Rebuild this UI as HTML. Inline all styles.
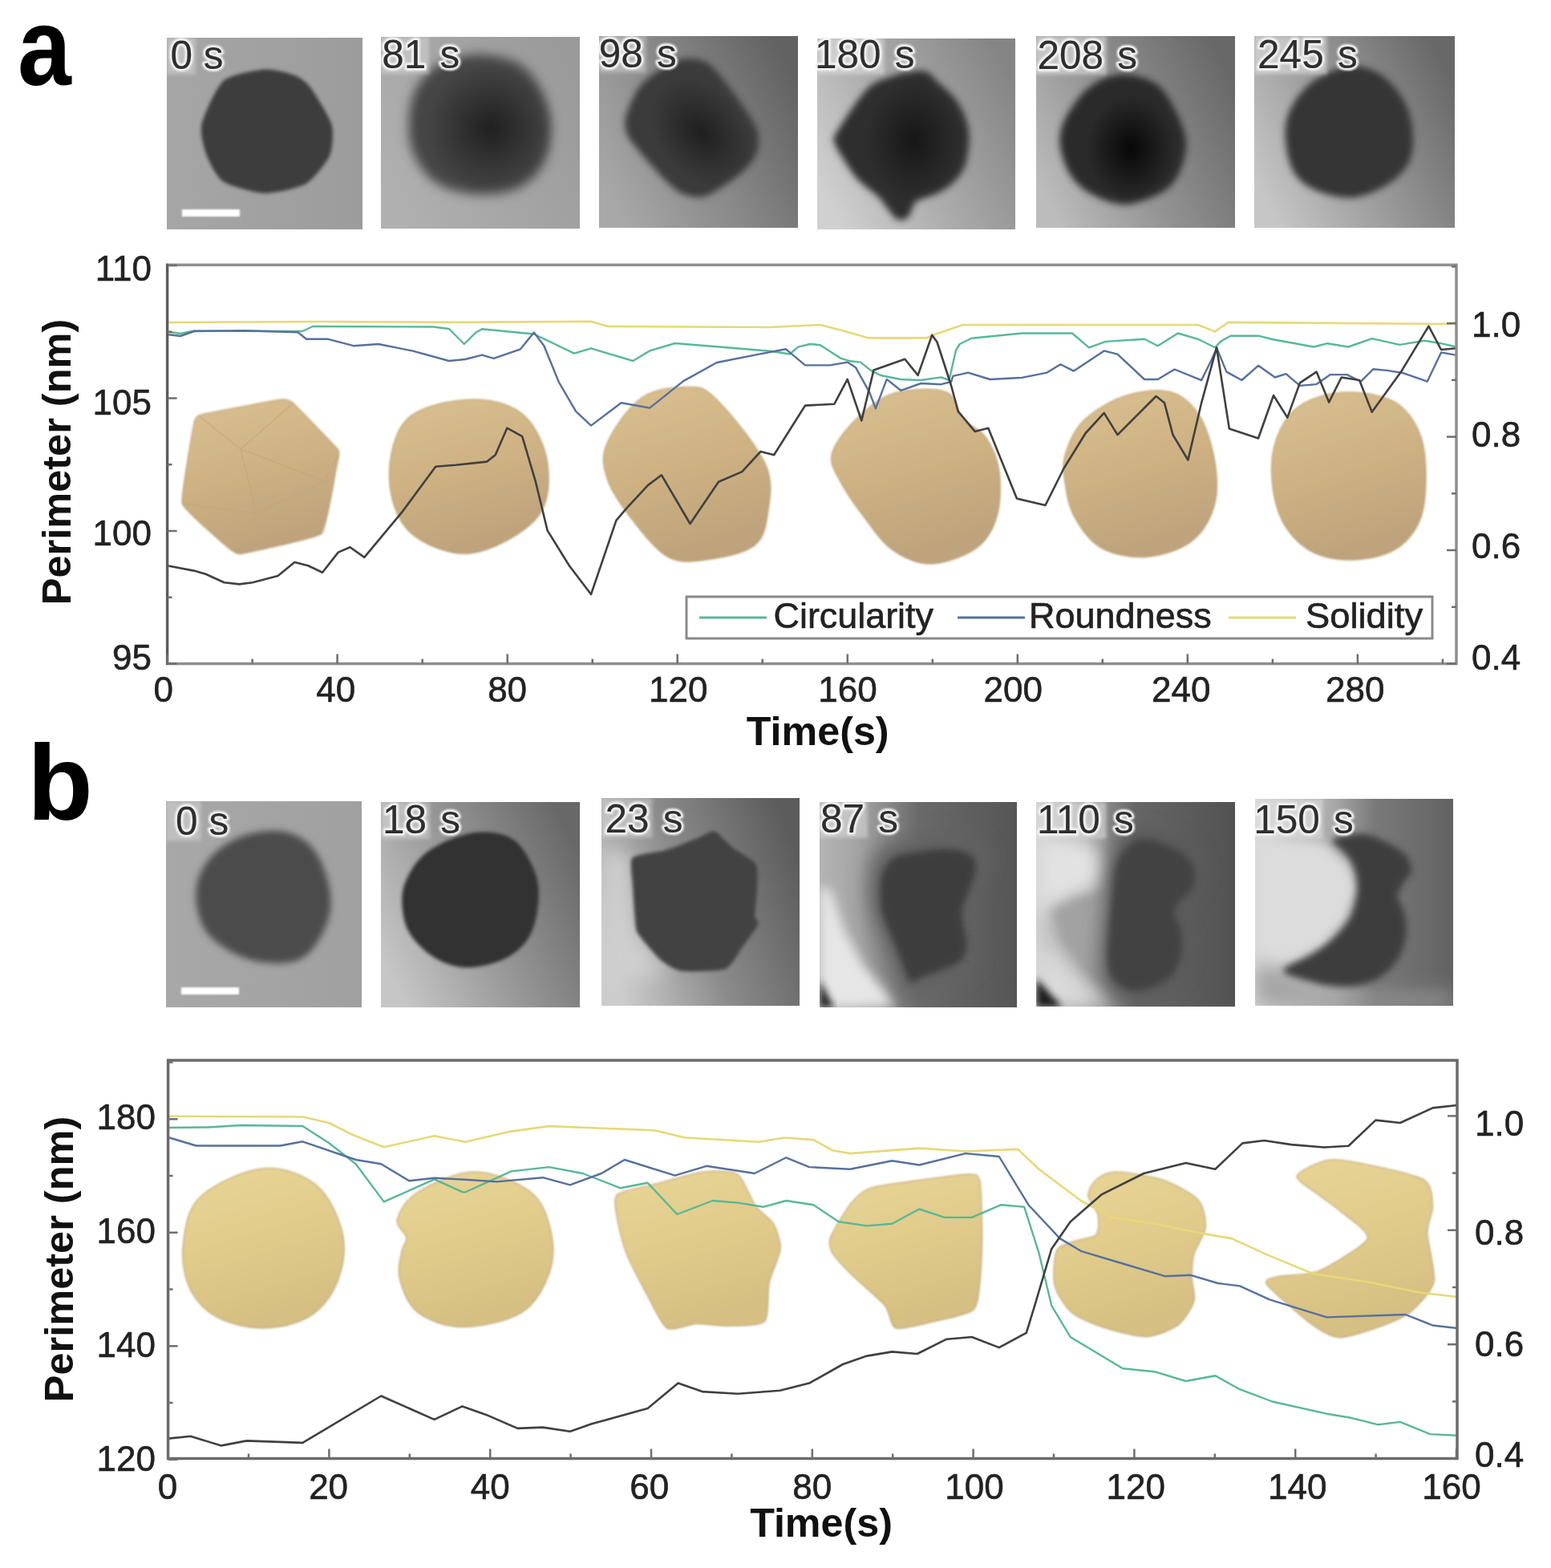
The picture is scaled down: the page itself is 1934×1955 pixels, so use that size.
<!DOCTYPE html>
<html><head><meta charset="utf-8"><title>Figure</title>
<style>html,body{margin:0;padding:0;background:#fff;}svg{display:block;}</style>
</head><body>
<svg xmlns="http://www.w3.org/2000/svg" width="1934" height="1955" viewBox="0 0 1934 1955">
<defs><filter id="b2" x="-20%" y="-20%" width="140%" height="140%"><feGaussianBlur stdDeviation="2"/></filter><filter id="b4" x="-20%" y="-20%" width="140%" height="140%"><feGaussianBlur stdDeviation="4"/></filter><filter id="b7" x="-30%" y="-30%" width="160%" height="160%"><feGaussianBlur stdDeviation="7"/></filter><filter id="b12" x="-40%" y="-40%" width="180%" height="180%"><feGaussianBlur stdDeviation="12"/></filter><filter id="b20" x="-50%" y="-50%" width="200%" height="200%"><feGaussianBlur stdDeviation="20"/></filter><filter id="b1" x="-10%" y="-10%" width="120%" height="120%"><feGaussianBlur stdDeviation="1"/></filter><filter id="sb" x="-5%" y="-5%" width="110%" height="110%"><feGaussianBlur stdDeviation="0.8"/></filter><filter id="grain" x="0" y="0" width="100%" height="100%"><feTurbulence type="fractalNoise" baseFrequency="0.35" numOctaves="2" seed="3" result="n"/><feColorMatrix type="matrix" values="0 0 0 0 0.5  0 0 0 0 0.5  0 0 0 0 0.5  0.6 0.6 0 0 -0.5"/></filter><radialGradient id="core1"><stop offset="0" stop-color="#1c1c1c" stop-opacity="0.9"/><stop offset="1" stop-color="#1c1c1c" stop-opacity="0"/></radialGradient><radialGradient id="core2"><stop offset="0" stop-color="#141414" stop-opacity="0.9"/><stop offset="1" stop-color="#141414" stop-opacity="0"/></radialGradient><radialGradient id="core3"><stop offset="0" stop-color="#050505" stop-opacity="0.95"/><stop offset="1" stop-color="#050505" stop-opacity="0"/></radialGradient><linearGradient id="ga1" x1="0" y1="0" x2="1" y2="0"><stop offset="0" stop-color="#a6a6a6"/><stop offset="1" stop-color="#9c9c9c"/></linearGradient><clipPath id="ca1"><rect x="208" y="47" width="244" height="239"/></clipPath><linearGradient id="ga2" x1="0" y1="0.75" x2="1" y2="0.25"><stop offset="0" stop-color="#b0b0b0"/><stop offset="1" stop-color="#9a9a9a"/></linearGradient><clipPath id="ca2"><rect x="475" y="46" width="248" height="239"/></clipPath><linearGradient id="ga3" x1="0" y1="0.75" x2="1" y2="0.25"><stop offset="0" stop-color="#a8a8a8"/><stop offset="0.5" stop-color="#888"/><stop offset="1" stop-color="#626262"/></linearGradient><clipPath id="ca3"><rect x="747" y="45" width="248" height="239"/></clipPath><linearGradient id="ga4" x1="0" y1="0.75" x2="1" y2="0.25"><stop offset="0" stop-color="#d0d0d0"/><stop offset="0.5" stop-color="#a8a8a8"/><stop offset="1" stop-color="#858585"/></linearGradient><clipPath id="ca4"><rect x="1019" y="48" width="247" height="238"/></clipPath><linearGradient id="ga5" x1="0" y1="0.75" x2="1" y2="0.25"><stop offset="0" stop-color="#bcbcbc"/><stop offset="0.45" stop-color="#929292"/><stop offset="1" stop-color="#686868"/></linearGradient><clipPath id="ca5"><rect x="1292" y="45" width="248" height="239"/></clipPath><linearGradient id="ga6" x1="0" y1="0.75" x2="1" y2="0.25"><stop offset="0" stop-color="#c6c6c6"/><stop offset="0.45" stop-color="#9c9c9c"/><stop offset="1" stop-color="#686868"/></linearGradient><clipPath id="ca6"><rect x="1564" y="45" width="250" height="239"/></clipPath><linearGradient id="gb1" x1="0" y1="0" x2="1" y2="0"><stop offset="0" stop-color="#a8a8a8"/><stop offset="1" stop-color="#a0a0a0"/></linearGradient><clipPath id="cb1"><rect x="207" y="999" width="244" height="257"/></clipPath><linearGradient id="gb2" x1="0" y1="0.75" x2="1" y2="0.25"><stop offset="0" stop-color="#c6c6c6"/><stop offset="0.45" stop-color="#9a9a9a"/><stop offset="1" stop-color="#686868"/></linearGradient><clipPath id="cb2"><rect x="475" y="1000" width="248" height="256"/></clipPath><linearGradient id="gb3" x1="0" y1="0.7" x2="1" y2="0.3"><stop offset="0" stop-color="#cccccc"/><stop offset="0.45" stop-color="#8c8c8c"/><stop offset="1" stop-color="#5c5c5c"/></linearGradient><clipPath id="cb3"><rect x="750" y="995" width="247" height="259"/></clipPath><linearGradient id="gb4" x1="0" y1="0" x2="1" y2="0"><stop offset="0" stop-color="#b4b4b4"/><stop offset="0.2" stop-color="#a4a4a4"/><stop offset="0.35" stop-color="#888"/><stop offset="0.5" stop-color="#6a6a6a"/><stop offset="1" stop-color="#555"/></linearGradient><clipPath id="cb4"><rect x="1022" y="1000" width="246" height="256"/></clipPath><linearGradient id="gb5" x1="0" y1="0" x2="1" y2="0"><stop offset="0" stop-color="#d0d0d0"/><stop offset="0.35" stop-color="#8a8a8a"/><stop offset="0.5" stop-color="#666"/><stop offset="1" stop-color="#525252"/></linearGradient><clipPath id="cb5"><rect x="1292" y="1000" width="248" height="255"/></clipPath><linearGradient id="gb6" x1="0" y1="0" x2="1" y2="0"><stop offset="0" stop-color="#d8d8d8"/><stop offset="0.4" stop-color="#a8a8a8"/><stop offset="0.6" stop-color="#7a7a7a"/><stop offset="1" stop-color="#626262"/></linearGradient><clipPath id="cb6"><rect x="1565" y="996" width="247" height="258"/></clipPath><linearGradient id="tanG" x1="0" y1="0" x2="0.3" y2="1"><stop offset="0" stop-color="#dac090"/><stop offset="0.5" stop-color="#cfb384"/><stop offset="1" stop-color="#bfa37c"/></linearGradient><linearGradient id="yelG" x1="0" y1="0" x2="0.3" y2="1"><stop offset="0" stop-color="#e8d596"/><stop offset="0.55" stop-color="#e0cb8b"/><stop offset="1" stop-color="#d5bf82"/></linearGradient></defs>
<rect width="1934" height="1955" fill="#fff"/>
<g clip-path="url(#ca1)"><rect x="208" y="47" width="244" height="239" fill="url(#ga1)"/><path d="M330.6,86.6 C341.0,85.8 361.5,91.6 368.2,94.3 C374.9,97.0 382.4,102.8 387.7,109.9 C393.0,117.0 410.9,145.5 413.6,155.3 C416.3,165.1 414.8,185.6 411.0,194.2 C407.2,202.8 390.7,223.8 381.2,229.2 C371.7,234.6 341.3,241.2 329.3,240.9 C317.3,240.6 287.0,232.0 278.7,226.6 C270.4,221.2 261.1,202.5 257.9,194.2 C254.7,185.9 249.0,166.2 251.4,155.3 C253.8,144.4 269.5,108.8 278.7,100.8 C287.9,92.8 320.2,87.4 330.6,86.6Z" fill="#3c3c3c" filter="url(#b2)"/><rect x="208" y="47" width="35.9" height="45.7" fill="#dedede" opacity="0.45" filter="url(#b2)"/></g><text x="212.4" y="85.7" font-family="'Liberation Sans', Arial, Helvetica, sans-serif" font-size="49.5" word-spacing="0" fill="none" stroke="#f4f4f4" stroke-width="6" stroke-linejoin="round" filter="url(#sb)">0 s</text><text x="212.4" y="85.7" font-family="'Liberation Sans', Arial, Helvetica, sans-serif" font-size="49.5" word-spacing="0" fill="#2e2e2e" stroke="#2e2e2e" stroke-width="0.2">0 s</text><rect x="227" y="261" width="72" height="9" fill="#fff" filter="url(#sb)"/>
<g clip-path="url(#ca2)"><rect x="475" y="46" width="248" height="239" fill="url(#ga2)"/><path d="M599.0,68.0 C617.3,68.5 640.7,73.0 655.0,85.0 C669.3,97.0 680.8,120.8 685.0,140.0 C689.2,159.2 686.7,184.2 680.0,200.0 C673.3,215.8 660.0,228.0 645.0,235.0 C630.0,242.0 607.5,243.7 590.0,242.0 C572.5,240.3 553.0,235.3 540.0,225.0 C527.0,214.7 516.2,197.5 512.0,180.0 C507.8,162.5 509.5,136.3 515.0,120.0 C520.5,103.7 531.0,90.7 545.0,82.0 C559.0,73.3 580.7,67.5 599.0,68.0Z" fill="#444" filter="url(#b7)"/><ellipse cx="612" cy="160" rx="80" ry="80" fill="url(#core1)"/><rect x="475" y="46" width="60.2" height="46.2" fill="#dedede" opacity="0.45" filter="url(#b2)"/></g><text x="476.2" y="85.2" font-family="'Liberation Sans', Arial, Helvetica, sans-serif" font-size="49.5" word-spacing="3.5" fill="none" stroke="#f4f4f4" stroke-width="6" stroke-linejoin="round" filter="url(#sb)">81 s</text><text x="476.2" y="85.2" font-family="'Liberation Sans', Arial, Helvetica, sans-serif" font-size="49.5" word-spacing="3.5" fill="#2e2e2e" stroke="#2e2e2e" stroke-width="0.2">81 s</text>
<g clip-path="url(#ca3)"><rect x="747" y="45" width="248" height="239" fill="url(#ga3)"/><path d="M782.0,140.0 C785.3,130.8 791.2,115.0 800.0,105.0 C808.8,95.0 824.7,85.3 835.0,80.0 C845.3,74.7 852.8,72.2 862.0,73.0 C871.2,73.8 877.8,73.0 890.0,85.0 C902.2,97.0 925.7,130.0 935.0,145.0 C944.3,160.0 946.0,165.0 946.0,175.0 C946.0,185.0 944.3,194.2 935.0,205.0 C925.7,215.8 902.2,233.3 890.0,240.0 C877.8,246.7 871.2,246.7 862.0,245.0 C852.8,243.3 847.0,240.8 835.0,230.0 C823.0,219.2 799.2,191.7 790.0,180.0 C780.8,168.3 781.3,166.7 780.0,160.0 C778.7,153.3 778.7,149.2 782.0,140.0Z" fill="#3a3a3a" filter="url(#b4)"/><ellipse cx="875" cy="165" rx="55" ry="75" transform="rotate(-40 875 165)" fill="url(#core1)"/><rect x="747" y="45" width="58.7" height="45.5" fill="#dedede" opacity="0.45" filter="url(#b2)"/></g><text x="746.7" y="83.5" font-family="'Liberation Sans', Arial, Helvetica, sans-serif" font-size="49.5" word-spacing="3.5" fill="none" stroke="#f4f4f4" stroke-width="6" stroke-linejoin="round" filter="url(#sb)">98 s</text><text x="746.7" y="83.5" font-family="'Liberation Sans', Arial, Helvetica, sans-serif" font-size="49.5" word-spacing="3.5" fill="#2e2e2e" stroke="#2e2e2e" stroke-width="0.2">98 s</text>
<g clip-path="url(#ca4)"><rect x="1019" y="48" width="247" height="238" fill="url(#ga4)"/><path d="M1043.4,164.7 C1050.0,153.7 1069.3,123.3 1080.3,111.9 C1091.3,100.5 1100.1,99.8 1109.3,96.1 C1118.5,92.4 1128.0,90.6 1135.7,89.5 C1143.4,88.4 1150.0,87.5 1155.5,89.5 C1161.0,91.5 1163.2,96.4 1168.7,101.4 C1174.2,106.5 1182.9,113.2 1188.4,119.8 C1193.9,126.4 1198.3,133.5 1201.6,141.0 C1204.9,148.5 1207.3,156.3 1208.2,164.7 C1209.1,173.0 1208.0,183.4 1206.9,191.1 C1205.8,198.8 1204.7,204.7 1201.6,210.8 C1198.5,217.0 1193.9,222.9 1188.4,228.0 C1182.9,233.1 1176.4,237.2 1168.7,241.2 C1161.0,245.1 1148.2,246.9 1142.3,251.7 C1136.3,256.5 1136.7,266.5 1133.0,270.2 C1129.3,273.9 1123.9,275.2 1119.9,274.1 C1116.0,273.0 1113.3,268.2 1109.3,263.6 C1105.3,259.0 1102.7,253.0 1096.1,246.4 C1089.5,239.8 1077.3,232.1 1069.8,224.0 C1062.3,215.9 1056.1,205.4 1051.3,197.7 C1046.5,190.0 1042.0,183.4 1040.7,177.9 C1039.4,172.4 1036.8,175.7 1043.4,164.7Z" fill="#2e2e2e" filter="url(#b4)"/><ellipse cx="1140" cy="175" rx="60" ry="75" fill="url(#core2)"/><rect x="1019" y="48" width="83.5" height="44.4" fill="#dedede" opacity="0.6" filter="url(#b2)"/></g><text x="1016" y="85.4" font-family="'Liberation Sans', Arial, Helvetica, sans-serif" font-size="49.5" word-spacing="3.5" fill="none" stroke="#f4f4f4" stroke-width="6" stroke-linejoin="round" filter="url(#sb)">180 s</text><text x="1016" y="85.4" font-family="'Liberation Sans', Arial, Helvetica, sans-serif" font-size="49.5" word-spacing="3.5" fill="#2e2e2e" stroke="#2e2e2e" stroke-width="0.2">180 s</text>
<g clip-path="url(#ca5)"><rect x="1292" y="45" width="248" height="239" fill="url(#ga5)"/><path d="M1323.8,159.2 C1328.4,144.4 1342.3,123.2 1354.3,112.1 C1366.3,101.0 1381.7,94.1 1396.0,92.7 C1410.3,91.3 1428.8,96.4 1440.3,103.8 C1451.8,111.2 1458.8,124.1 1465.3,137.0 C1471.8,149.9 1479.6,166.1 1479.1,181.4 C1478.6,196.7 1471.7,217.0 1462.5,228.6 C1453.3,240.2 1435.7,246.7 1423.7,250.8 C1411.7,255.0 1402.9,256.3 1390.4,253.5 C1377.9,250.7 1359.4,242.9 1348.8,234.1 C1338.2,225.3 1330.8,213.3 1326.6,200.8 C1322.4,188.3 1319.2,174.0 1323.8,159.2Z" fill="#2a2a2a" filter="url(#b4)"/><ellipse cx="1410" cy="185" rx="55" ry="65" fill="url(#core3)"/><rect x="1292" y="45" width="87.9" height="48.0" fill="#dedede" opacity="0.6" filter="url(#b2)"/></g><text x="1293.4" y="86" font-family="'Liberation Sans', Arial, Helvetica, sans-serif" font-size="49.5" word-spacing="3.5" fill="none" stroke="#f4f4f4" stroke-width="6" stroke-linejoin="round" filter="url(#sb)">208 s</text><text x="1293.4" y="86" font-family="'Liberation Sans', Arial, Helvetica, sans-serif" font-size="49.5" word-spacing="3.5" fill="#2e2e2e" stroke="#2e2e2e" stroke-width="0.2">208 s</text>
<g clip-path="url(#ca6)"><rect x="1564" y="45" width="250" height="239" fill="url(#ga6)"/><path d="M1603.9,150.9 C1607.6,134.2 1618.9,117.3 1631.6,106.0 C1644.3,94.7 1664.9,85.2 1680.0,83.0 C1695.1,80.8 1709.7,84.9 1722.0,93.0 C1734.3,101.1 1747.0,117.2 1753.7,131.5 C1760.4,145.8 1762.5,165.3 1762.0,178.7 C1761.5,192.1 1758.3,202.2 1750.9,211.9 C1743.5,221.6 1729.6,231.1 1717.6,236.9 C1705.6,242.7 1692.7,247.1 1678.8,246.6 C1664.9,246.1 1646.0,240.8 1634.4,234.1 C1622.9,227.4 1614.6,220.3 1609.5,206.4 C1604.4,192.5 1600.2,167.6 1603.9,150.9Z" fill="#343434" filter="url(#b4)"/><rect x="1564" y="45" width="90.6" height="47.4" fill="#dedede" opacity="0.6" filter="url(#b2)"/></g><text x="1568.1" y="85.4" font-family="'Liberation Sans', Arial, Helvetica, sans-serif" font-size="49.5" word-spacing="3.5" fill="none" stroke="#f4f4f4" stroke-width="6" stroke-linejoin="round" filter="url(#sb)">245 s</text><text x="1568.1" y="85.4" font-family="'Liberation Sans', Arial, Helvetica, sans-serif" font-size="49.5" word-spacing="3.5" fill="#2e2e2e" stroke="#2e2e2e" stroke-width="0.2">245 s</text>
<g clip-path="url(#cb1)"><rect x="207" y="999" width="244" height="257" fill="url(#gb1)"/><path d="M244.4,1109.2 C245.8,1093.9 253.6,1078.9 263.8,1067.6 C274.0,1056.3 290.1,1046.4 305.4,1041.3 C320.6,1036.2 341.0,1034.1 355.3,1037.1 C369.6,1040.1 382.1,1047.7 391.3,1059.3 C400.6,1070.9 408.0,1091.2 410.8,1106.5 C413.6,1121.8 413.1,1136.5 408.0,1150.8 C402.9,1165.1 391.9,1184.1 380.3,1192.4 C368.8,1200.7 353.0,1201.2 338.7,1200.8 C324.4,1200.3 308.2,1196.6 294.3,1189.7 C280.4,1182.8 263.8,1172.6 255.5,1159.2 C247.2,1145.8 243.0,1124.5 244.4,1109.2Z" fill="#4c4c4c" filter="url(#b4)"/><rect x="207" y="999" width="43.6" height="49.3" fill="#dedede" opacity="0.45" filter="url(#b2)"/></g><text x="219.1" y="1041.3" font-family="'Liberation Sans', Arial, Helvetica, sans-serif" font-size="49.5" word-spacing="0" fill="none" stroke="#f4f4f4" stroke-width="6" stroke-linejoin="round" filter="url(#sb)">0 s</text><text x="219.1" y="1041.3" font-family="'Liberation Sans', Arial, Helvetica, sans-serif" font-size="49.5" word-spacing="0" fill="#2e2e2e" stroke="#2e2e2e" stroke-width="0.2">0 s</text><rect x="226" y="1231" width="72" height="9" fill="#fff" filter="url(#sb)"/>
<g clip-path="url(#cb2)"><rect x="475" y="1000" width="248" height="256" fill="url(#gb2)"/><path d="M505.0,1100.9 C510.1,1088.4 518.9,1072.5 532.8,1062.1 C546.7,1051.7 570.6,1041.3 588.2,1038.5 C605.8,1035.7 625.2,1037.9 638.2,1045.5 C651.2,1053.1 660.4,1071.4 665.9,1084.3 C671.4,1097.2 672.3,1109.2 671.4,1123.1 C670.5,1137.0 667.2,1155.5 660.3,1167.5 C653.4,1179.5 642.7,1188.7 629.8,1195.2 C616.9,1201.7 597.0,1206.3 582.7,1206.3 C568.4,1206.3 555.5,1201.7 543.9,1195.2 C532.3,1188.7 520.3,1177.2 513.4,1167.5 C506.5,1157.8 503.7,1148.1 502.3,1137.0 C500.9,1125.9 499.9,1113.4 505.0,1100.9Z" fill="#333" filter="url(#b2)"/><rect x="475" y="1000" width="61.0" height="46.0" fill="#dedede" opacity="0.45" filter="url(#b2)"/></g><text x="477" y="1039" font-family="'Liberation Sans', Arial, Helvetica, sans-serif" font-size="49.5" word-spacing="3.5" fill="none" stroke="#f4f4f4" stroke-width="6" stroke-linejoin="round" filter="url(#sb)">18 s</text><text x="477" y="1039" font-family="'Liberation Sans', Arial, Helvetica, sans-serif" font-size="49.5" word-spacing="3.5" fill="#2e2e2e" stroke="#2e2e2e" stroke-width="0.2">18 s</text>
<g clip-path="url(#cb3)"><rect x="750" y="995" width="247" height="259" fill="url(#gb3)"/><path d="M752,1060 L785,1065 L790,1160 L830,1215 L752,1230Z" fill="#cfcfcf" filter="url(#b12)"/><path d="M788.8,1069.3 C792.9,1065.1 821.9,1062.4 830.0,1060.0 C838.1,1057.6 863.9,1047.3 870.0,1045.0 C876.1,1042.7 886.4,1035.3 890.9,1036.6 C895.4,1037.9 909.8,1053.9 915.0,1058.0 C920.2,1062.1 939.8,1072.3 942.7,1077.4 C945.6,1082.5 944.1,1102.2 944.0,1108.7 C943.9,1115.2 941.3,1138.4 941.4,1142.8 C941.5,1147.2 947.0,1148.4 945.4,1152.3 C943.8,1156.2 929.1,1176.4 925.0,1182.0 C920.9,1187.6 912.1,1205.2 904.6,1208.1 C897.1,1211.0 858.1,1211.9 850.1,1210.8 C842.1,1209.7 829.2,1201.3 824.2,1197.2 C819.2,1193.1 803.1,1174.1 800.0,1170.0 C796.9,1165.9 794.0,1163.2 792.9,1156.4 C791.8,1149.6 789.2,1110.7 788.8,1102.0 C788.4,1093.3 784.7,1073.5 788.8,1069.3Z" fill="#424242" filter="url(#b2)"/><rect x="750" y="995" width="63.5" height="49.5" fill="#dedede" opacity="0.45" filter="url(#b2)"/></g><text x="754.5" y="1037.5" font-family="'Liberation Sans', Arial, Helvetica, sans-serif" font-size="49.5" word-spacing="3.5" fill="none" stroke="#f4f4f4" stroke-width="6" stroke-linejoin="round" filter="url(#sb)">23 s</text><text x="754.5" y="1037.5" font-family="'Liberation Sans', Arial, Helvetica, sans-serif" font-size="49.5" word-spacing="3.5" fill="#2e2e2e" stroke="#2e2e2e" stroke-width="0.2">23 s</text>
<g clip-path="url(#cb4)"><rect x="1022" y="1000" width="246" height="256" fill="url(#gb4)"/><path d="M1022,1105 L1036,1110 L1052,1158 L1076,1203 L1104,1236 L1116,1256 L1022,1256Z" fill="#e6e6e6" filter="url(#b7)"/><path d="M1022,1222 L1040,1256 L1022,1256Z" fill="#222" filter="url(#b4)"/><path d="M1086.0,1078.5 C1089.6,1070.1 1094.9,1059.7 1103.8,1054.2 C1112.6,1048.7 1126.0,1047.9 1139.4,1045.6 C1152.7,1043.3 1170.5,1040.0 1183.9,1040.3 C1197.2,1040.6 1211.4,1043.2 1219.4,1047.3 C1227.4,1051.3 1231.0,1056.5 1231.9,1064.6 C1232.8,1072.7 1228.3,1084.8 1224.8,1095.8 C1221.2,1106.8 1212.6,1120.5 1210.5,1130.6 C1208.4,1140.8 1211.1,1148.0 1212.2,1156.7 C1213.4,1165.4 1217.9,1174.0 1217.6,1182.7 C1217.3,1191.4 1216.1,1202.0 1210.5,1208.7 C1204.9,1215.3 1194.2,1218.2 1183.9,1222.6 C1173.5,1226.9 1157.1,1231.3 1148.2,1234.8 C1139.4,1238.3 1135.0,1244.9 1130.5,1243.5 C1126.0,1242.0 1126.0,1236.3 1121.5,1226.1 C1117.0,1216.0 1109.7,1197.2 1103.8,1182.7 C1097.8,1168.2 1089.6,1152.3 1086.0,1139.3 C1082.4,1126.3 1082.4,1114.7 1082.4,1104.6 C1082.4,1094.5 1082.4,1086.9 1086.0,1078.5Z" fill="#626262" filter="url(#b12)"/><path d="M1100.4,1089.6 C1103.2,1082.7 1107.5,1074.2 1114.6,1069.7 C1121.7,1065.2 1132.4,1064.5 1143.1,1062.6 C1153.8,1060.7 1168.0,1058.1 1178.7,1058.3 C1189.4,1058.5 1200.7,1060.7 1207.1,1064.0 C1213.5,1067.3 1216.4,1071.6 1217.1,1078.2 C1217.8,1084.8 1214.2,1094.8 1211.4,1103.8 C1208.6,1112.8 1201.7,1124.0 1200.0,1132.3 C1198.3,1140.6 1200.5,1146.6 1201.4,1153.7 C1202.4,1160.8 1205.9,1167.9 1205.7,1175.0 C1205.5,1182.1 1204.5,1190.8 1200.0,1196.3 C1195.5,1201.8 1187.0,1204.1 1178.7,1207.7 C1170.4,1211.3 1157.3,1214.9 1150.2,1217.7 C1143.1,1220.5 1139.6,1226.0 1136.0,1224.8 C1132.4,1223.6 1132.4,1218.9 1128.8,1210.6 C1125.2,1202.3 1119.3,1186.9 1114.6,1175.0 C1109.9,1163.1 1103.2,1150.1 1100.4,1139.4 C1097.6,1128.7 1097.5,1119.3 1097.5,1111.0 C1097.5,1102.7 1097.6,1096.5 1100.4,1089.6Z" fill="#3e3e3e" filter="url(#b4)"/><rect x="1022" y="1000" width="59.9" height="44.5" fill="#dedede" opacity="0.5" filter="url(#b2)"/></g><text x="1022.9" y="1037.5" font-family="'Liberation Sans', Arial, Helvetica, sans-serif" font-size="49.5" word-spacing="3.5" fill="none" stroke="#f4f4f4" stroke-width="6" stroke-linejoin="round" filter="url(#sb)">87 s</text><text x="1022.9" y="1037.5" font-family="'Liberation Sans', Arial, Helvetica, sans-serif" font-size="49.5" word-spacing="3.5" fill="#2e2e2e" stroke="#2e2e2e" stroke-width="0.2">87 s</text>
<g clip-path="url(#cb5)"><rect x="1292" y="1000" width="248" height="255" fill="url(#gb5)"/><path d="M1292,1040 L1360,1045 L1378,1075 L1372,1110 L1340,1118 L1310,1130 L1292,1140Z" fill="#e2e2e2" filter="url(#b12)"/><path d="M1292,1180 L1315,1185 L1345,1215 L1375,1240 L1385,1256 L1292,1256Z" fill="#dadada" filter="url(#b12)"/><path d="M1310,1135 L1345,1120 L1385,1115 L1390,1225 L1365,1215 L1325,1175Z" fill="#a2a2a2" filter="url(#b7)"/><path d="M1292,1220 L1325,1256 L1292,1256Z" fill="#1e1e1e" filter="url(#b4)"/><path d="M1388.6,1061.3 C1393.1,1053.8 1401.1,1043.2 1408.7,1039.0 C1416.2,1034.7 1422.7,1033.6 1433.9,1035.7 C1445.1,1037.9 1465.6,1045.9 1475.9,1051.7 C1486.3,1057.6 1492.1,1064.2 1496.0,1070.8 C1499.9,1077.4 1500.1,1085.4 1499.5,1091.5 C1499.0,1097.6 1496.6,1102.2 1492.7,1107.5 C1488.8,1112.8 1479.9,1118.1 1475.9,1123.4 C1472.0,1128.7 1468.6,1132.7 1469.2,1139.3 C1469.8,1146.0 1477.7,1154.0 1479.4,1163.3 C1481.1,1172.6 1481.3,1185.3 1479.4,1195.1 C1477.4,1204.9 1473.7,1214.8 1467.6,1222.2 C1461.4,1229.7 1452.1,1235.8 1442.3,1239.8 C1432.5,1243.8 1418.5,1247.0 1408.7,1246.2 C1398.9,1245.4 1389.7,1240.8 1383.5,1235.0 C1377.4,1229.1 1373.5,1223.1 1371.9,1211.1 C1370.2,1199.2 1372.4,1179.2 1373.5,1163.3 C1374.6,1147.4 1377.2,1128.8 1378.6,1115.5 C1380.0,1102.2 1380.2,1092.6 1381.9,1083.6 C1383.6,1074.5 1384.2,1068.7 1388.6,1061.3Z" fill="#5a5a5a" filter="url(#b12)"/><path d="M1396.0,1069.7 C1399.8,1063.1 1406.6,1053.6 1413.0,1049.8 C1419.4,1046.0 1424.9,1045.0 1434.4,1046.9 C1443.9,1048.8 1461.2,1056.0 1470.0,1061.2 C1478.8,1066.4 1483.7,1072.3 1487.0,1078.2 C1490.3,1084.1 1490.5,1091.2 1490.0,1096.7 C1489.5,1102.2 1487.5,1106.2 1484.2,1111.0 C1480.9,1115.8 1473.3,1120.5 1470.0,1125.2 C1466.7,1129.9 1463.8,1133.5 1464.3,1139.4 C1464.8,1145.3 1471.5,1152.5 1472.9,1160.8 C1474.3,1169.1 1474.6,1180.4 1472.9,1189.2 C1471.2,1198.0 1468.1,1206.8 1462.9,1213.4 C1457.7,1220.1 1449.8,1225.5 1441.5,1229.1 C1433.2,1232.7 1421.3,1235.5 1413.0,1234.8 C1404.7,1234.1 1396.9,1230.0 1391.7,1224.8 C1386.5,1219.6 1383.2,1214.2 1381.8,1203.5 C1380.4,1192.8 1382.2,1175.0 1383.2,1160.8 C1384.2,1146.6 1386.3,1130.0 1387.5,1118.1 C1388.7,1106.2 1388.9,1097.7 1390.3,1089.6 C1391.7,1081.5 1392.2,1076.3 1396.0,1069.7Z" fill="#434343" filter="url(#b4)"/><rect x="1292" y="1000" width="87.4" height="46.0" fill="#dedede" opacity="0.6" filter="url(#b2)"/></g><text x="1292.9" y="1039" font-family="'Liberation Sans', Arial, Helvetica, sans-serif" font-size="49.5" word-spacing="3.5" fill="none" stroke="#f4f4f4" stroke-width="6" stroke-linejoin="round" filter="url(#sb)">110 s</text><text x="1292.9" y="1039" font-family="'Liberation Sans', Arial, Helvetica, sans-serif" font-size="49.5" word-spacing="3.5" fill="#2e2e2e" stroke="#2e2e2e" stroke-width="0.2">110 s</text>
<g clip-path="url(#cb6)"><rect x="1565" y="996" width="247" height="258" fill="url(#gb6)"/><path d="M1565,1045 L1650,1050 L1685,1080 L1692,1110 L1680,1145 L1650,1180 L1610,1200 L1565,1215Z" fill="#dcdcdc" filter="url(#b7)"/><path d="M1565,1200 L1600,1210 L1640,1232 L1700,1244 L1812,1240 L1812,1254 L1565,1254Z" fill="#a4a4a4" filter="url(#b12)"/><path d="M1661.9,1046.9 C1666.7,1043.8 1688.0,1038.6 1700.3,1039.8 C1712.6,1041.0 1726.9,1049.2 1735.9,1054.0 C1744.9,1058.8 1750.4,1062.8 1754.4,1068.3 C1758.4,1073.8 1760.7,1081.3 1760.0,1086.8 C1759.3,1092.2 1752.9,1095.8 1750.1,1101.0 C1747.3,1106.2 1742.8,1111.7 1743.0,1118.1 C1743.2,1124.5 1749.8,1131.1 1751.5,1139.4 C1753.2,1147.7 1754.4,1158.4 1753.0,1167.9 C1751.6,1177.4 1748.2,1188.0 1743.0,1196.3 C1737.8,1204.6 1730.0,1212.2 1721.7,1217.7 C1713.4,1223.2 1703.9,1227.2 1693.2,1229.1 C1682.5,1231.0 1669.5,1230.5 1657.6,1229.1 C1645.7,1227.7 1631.5,1223.3 1622.0,1220.5 C1612.5,1217.7 1603.1,1214.8 1600.7,1212.0 C1598.3,1209.2 1601.9,1207.3 1607.8,1203.5 C1613.7,1199.7 1626.8,1195.1 1636.3,1189.2 C1645.8,1183.3 1656.4,1176.2 1664.7,1167.9 C1673.0,1159.6 1681.3,1150.1 1686.1,1139.4 C1690.8,1128.7 1693.2,1114.5 1693.2,1103.8 C1693.2,1093.1 1689.7,1083.0 1686.1,1075.4 C1682.5,1067.8 1675.8,1063.0 1671.8,1058.3 C1667.8,1053.5 1657.2,1050.0 1661.9,1046.9Z" fill="#3e3e3e" filter="url(#b4)"/><rect x="1565" y="996" width="84.7" height="49.7" fill="#dedede" opacity="0.6" filter="url(#b2)"/></g><text x="1563.2" y="1038.7" font-family="'Liberation Sans', Arial, Helvetica, sans-serif" font-size="49.5" word-spacing="3.5" fill="none" stroke="#f4f4f4" stroke-width="6" stroke-linejoin="round" filter="url(#sb)">150 s</text><text x="1563.2" y="1038.7" font-family="'Liberation Sans', Arial, Helvetica, sans-serif" font-size="49.5" word-spacing="3.5" fill="#2e2e2e" stroke="#2e2e2e" stroke-width="0.2">150 s</text>
<g transform="translate(22,106) scale(0.87,1)"><text x="0" y="0" font-family="'Liberation Sans', Arial, Helvetica, sans-serif" font-weight="bold" font-size="138" fill="#000">a</text></g>
<text x="34" y="1022" font-family="'Liberation Sans', Arial, Helvetica, sans-serif" font-weight="bold" font-size="134" fill="#000">b</text>
<path d="M250.2,517.0 C255.6,515.5 344.9,498.8 350.7,498.1 C356.5,497.4 361.7,499.2 365.3,502.3 C368.9,505.4 419.1,557.0 421.8,561.0 C424.5,565.0 420.8,576.6 419.8,581.8 C418.8,587.0 406.9,660.2 400.9,665.6 C394.9,671.0 306.4,689.9 300.5,690.7 C294.6,691.5 287.4,685.4 283.7,682.3 C280.0,679.2 229.3,635.6 227.2,627.9 C225.1,620.2 240.8,532.9 241.9,527.4 C243.1,521.9 244.8,518.5 250.2,517.0Z" fill="url(#tanG)" stroke="#b89c6a" stroke-width="2" stroke-opacity="0.5" filter="url(#b1)"/>
<g stroke="#c4a574" stroke-width="1.5" fill="none" opacity="0.6"><polyline points="250,520 300,560 365,503"/><polyline points="300,560 320,640 300,690"/><polyline points="320,640 405,600 420,570"/><polyline points="228,628 320,640"/><polyline points="300,560 405,600"/></g>
<path d="M508.0,522.0 C524.9,505.7 563.0,498.9 587.0,498.0 C611.0,497.1 636.0,503.1 652.0,516.5 C668.0,530.0 680.2,557.0 683.0,578.7 C685.8,600.4 685.0,628.0 669.0,646.5 C653.0,665.0 613.3,687.2 587.0,690.0 C560.7,692.8 527.9,679.1 511.0,663.4 C494.1,647.7 485.9,619.2 485.4,595.6 C484.9,572.0 491.1,538.3 508.0,522.0Z" fill="url(#tanG)" stroke="#b89c6a" stroke-width="2" stroke-opacity="0.5" filter="url(#b1)"/>
<path d="M756.7,553.2 C763.8,536.7 782.5,508.5 799.0,496.7 C815.5,484.9 840.1,482.6 855.6,482.6 C871.1,482.6 875.8,480.7 892.3,496.7 C908.8,512.7 943.7,554.7 954.5,578.7 C965.3,602.7 959.6,623.8 957.3,640.8 C954.9,657.8 952.6,671.0 940.4,680.4 C928.2,689.8 901.8,695.0 883.9,697.4 C866.0,699.8 849.5,703.5 833.0,694.5 C816.5,685.5 797.7,660.2 785.0,643.7 C772.3,627.2 761.4,610.7 756.7,595.6 C752.0,580.5 749.7,569.7 756.7,553.2Z" fill="url(#tanG)" stroke="#b89c6a" stroke-width="2" stroke-opacity="0.5" filter="url(#b1)"/>
<path d="M1037.0,567.4 C1039.3,555.1 1051.1,540.0 1062.4,527.8 C1073.7,515.6 1090.7,501.1 1104.8,494.0 C1118.9,486.9 1134.0,485.9 1147.2,485.4 C1160.4,484.9 1175.0,484.9 1183.9,491.0 C1192.8,497.1 1193.3,513.2 1200.8,522.2 C1208.3,531.2 1221.6,534.0 1229.1,544.8 C1236.6,555.6 1243.7,570.7 1246.0,587.2 C1248.3,603.7 1247.9,627.7 1243.2,643.7 C1238.5,659.7 1231.5,673.3 1217.8,683.2 C1204.1,693.1 1178.7,702.5 1161.3,703.0 C1143.9,703.5 1127.3,695.9 1113.2,686.0 C1099.1,676.1 1087.3,657.8 1076.5,643.7 C1065.7,629.6 1054.9,614.0 1048.3,601.3 C1041.7,588.6 1034.7,579.6 1037.0,567.4Z" fill="url(#tanG)" stroke="#b89c6a" stroke-width="2" stroke-opacity="0.5" filter="url(#b1)"/>
<path d="M1328.0,567.4 C1331.8,554.7 1338.3,537.2 1350.6,525.0 C1362.8,512.8 1383.6,500.0 1401.5,493.9 C1419.4,487.8 1442.5,484.5 1458.0,488.3 C1473.5,492.1 1485.3,502.4 1494.7,516.5 C1504.1,530.6 1511.2,554.2 1514.5,573.0 C1517.8,591.8 1519.2,612.5 1514.5,629.5 C1509.8,646.5 1500.3,663.9 1486.2,674.7 C1472.1,685.5 1448.5,693.1 1429.7,694.5 C1410.9,695.9 1388.3,691.7 1373.2,683.2 C1358.1,674.7 1346.8,657.4 1339.3,643.7 C1331.8,630.1 1329.9,614.0 1328.0,601.3 C1326.1,588.6 1324.2,580.1 1328.0,567.4Z" fill="url(#tanG)" stroke="#b89c6a" stroke-width="2" stroke-opacity="0.5" filter="url(#b1)"/>
<path d="M1588.0,560.0 C1591.7,543.3 1599.7,526.2 1610.0,515.0 C1620.3,503.8 1635.0,497.2 1650.0,493.0 C1665.0,488.8 1684.2,488.0 1700.0,490.0 C1715.8,492.0 1733.0,495.8 1745.0,505.0 C1757.0,514.2 1766.5,529.2 1772.0,545.0 C1777.5,560.8 1778.3,582.5 1778.0,600.0 C1777.7,617.5 1776.3,635.8 1770.0,650.0 C1763.7,664.2 1753.3,677.0 1740.0,685.0 C1726.7,693.0 1706.7,697.2 1690.0,698.0 C1673.3,698.8 1654.2,696.3 1640.0,690.0 C1625.8,683.7 1613.7,672.5 1605.0,660.0 C1596.3,647.5 1590.8,631.7 1588.0,615.0 C1585.2,598.3 1584.3,576.7 1588.0,560.0Z" fill="url(#tanG)" stroke="#b89c6a" stroke-width="2" stroke-opacity="0.5" filter="url(#b1)"/>
<polyline points="208.6,402.0 400.0,401.0 580.0,401.9 737.0,400.8 758.0,407.0 960.0,408.0 1022.8,405.0 1048.0,411.4 1083.0,421.4 1154.7,421.4 1167.0,416.4 1186.0,410.0 1201.0,405.0 1494.0,405.0 1514.9,413.4 1531.6,401.9 1816.0,404.0" fill="none" stroke="#e6d878" stroke-width="2.6" stroke-linejoin="round" stroke-opacity="1.0"/>
<polyline points="208.6,413.5 225.0,416.0 242.0,412.5 377.0,413.0 390.0,407.0 540.0,407.5 560.0,410.0 578.8,429.0 593.5,414.4 601.0,410.2 665.8,416.5 716.0,440.6 737.0,434.3 789.3,450.0 810.2,437.4 841.6,428.0 893.9,432.2 960.0,437.8 985.0,441.5 995.0,432.7 1010.0,429.0 1022.8,430.2 1048.0,446.6 1060.5,450.3 1073.0,451.6 1085.6,461.6 1098.0,468.0 1123.0,473.0 1148.0,474.0 1173.5,470.4 1183.5,474.0 1192.0,436.5 1196.7,429.0 1211.4,421.7 1274.2,415.5 1337.0,415.5 1357.9,433.3 1378.8,425.9 1427.0,422.8 1443.7,431.2 1468.8,415.5 1494.0,422.8 1514.9,433.3 1522.4,425.6 1534.5,418.7 1569.0,418.7 1586.3,423.0 1638.1,432.5 1655.4,428.2 1681.3,432.5 1710.7,422.2 1745.2,429.9 1776.3,424.8 1797.0,428.2 1816.0,432.5" fill="none" stroke="#58b896" stroke-width="2.4" stroke-linejoin="round" stroke-opacity="1.0"/>
<polyline points="208.6,417.0 225.0,419.0 242.0,413.0 304.6,412.3 371.6,414.4 382.0,422.8 409.3,422.8 440.7,431.2 472.0,429.0 514.0,437.4 560.0,450.0 580.0,448.0 601.0,442.7 615.6,446.9 649.0,435.3 665.8,414.4 678.4,431.2 697.2,477.2 718.1,512.8 737.0,530.6 774.6,502.3 810.2,508.6 852.1,475.1 893.9,452.0 946.3,441.6 980.0,435.3 1004.0,455.4 1035.0,455.4 1056.7,451.6 1066.8,457.9 1084.3,489.3 1091.9,509.4 1105.7,472.9 1123.3,486.8 1148.4,478.0 1173.5,479.2 1186.0,476.0 1188.4,468.8 1207.2,464.6 1234.4,473.0 1274.2,470.9 1305.6,464.6 1322.3,454.2 1339.0,462.6 1376.7,437.4 1393.5,441.6 1427.0,473.0 1443.7,473.0 1464.6,460.5 1498.1,474.1 1510.0,450.0 1517.3,434.3 1529.4,463.6 1548.4,474.0 1569.0,455.8 1589.8,470.5 1603.6,466.2 1620.9,480.9 1641.6,479.1 1658.9,467.1 1679.6,467.1 1696.9,475.7 1712.4,460.2 1729.7,461.9 1750.4,465.3 1779.7,475.7 1797.0,439.4 1816.0,442.9" fill="none" stroke="#56709e" stroke-width="2.4" stroke-linejoin="round" stroke-opacity="1.0"/>
<polyline points="208.6,705.3 241.9,711.6 256.5,715.8 279.5,726.3 298.4,728.4 315.0,726.3 346.5,717.9 367.4,701.1 384.2,705.3 402.0,713.7 421.8,688.6 436.5,682.3 454.3,694.9 501.4,638.4 543.2,581.8 568.4,579.8 607.2,575.6 617.7,567.2 632.3,533.7 651.2,544.2 667.9,600.7 682.6,661.4 709.8,705.3 737.0,741.0 768.4,648.8 780.9,634.2 808.1,604.9 824.9,592.3 860.5,653.0 896.0,600.7 925.3,588.1 948.4,563.0 965.1,567.2 1004.0,505.6 1040.4,503.7 1056.7,472.9 1074.3,524.4 1089.4,461.6 1128.3,447.8 1144.6,467.9 1162.2,417.7 1168.5,426.5 1186.0,480.5 1194.7,512.8 1215.6,537.9 1232.3,533.7 1267.9,621.6 1303.5,630.0 1326.5,584.0 1353.7,540.0 1376.7,514.9 1393.5,542.1 1441.6,494.0 1452.0,502.3 1462.5,542.1 1481.4,573.5 1498.1,502.3 1517.0,433.3 1532.8,534.4 1569.0,546.5 1588.0,493.0 1605.3,520.6 1620.9,477.4 1641.6,463.6 1657.1,501.6 1672.7,470.5 1695.1,474.0 1710.7,513.7 1747.0,463.6 1781.5,406.6 1797.0,436.0 1816.0,434.3" fill="none" stroke="#404040" stroke-width="2.6" stroke-linejoin="round" stroke-opacity="1.0"/>
<rect x="208.6" y="330.3" width="1607.4" height="497.2" fill="none" stroke="#8e8e8e" stroke-width="3.5"/>
<line x1="208.6" y1="328.8" x2="208.6" y2="829.0" stroke="#5a5a5a" stroke-width="3"/>
<line x1="208.6" y1="827.5" x2="208.6" y2="815.5" stroke="#6e6e6e" stroke-width="2.5"/>
<g transform="translate(203.8,874.5) scale(1.0,1)"><text x="0" y="0" font-family="'Liberation Sans', Arial, Helvetica, sans-serif" font-size="44" font-weight="normal" text-anchor="middle" fill="#222" stroke="#222" stroke-width="0.6">0</text></g>
<line x1="314.6" y1="827.5" x2="314.6" y2="821.5" stroke="#6e6e6e" stroke-width="2.5"/>
<line x1="420.6" y1="827.5" x2="420.6" y2="815.5" stroke="#6e6e6e" stroke-width="2.5"/>
<g transform="translate(418.8,874.5) scale(1.0,1)"><text x="0" y="0" font-family="'Liberation Sans', Arial, Helvetica, sans-serif" font-size="44" font-weight="normal" text-anchor="middle" fill="#222" stroke="#222" stroke-width="0.6">40</text></g>
<line x1="526.7" y1="827.5" x2="526.7" y2="821.5" stroke="#6e6e6e" stroke-width="2.5"/>
<line x1="632.7" y1="827.5" x2="632.7" y2="815.5" stroke="#6e6e6e" stroke-width="2.5"/>
<g transform="translate(632.6,874.5) scale(1.0,1)"><text x="0" y="0" font-family="'Liberation Sans', Arial, Helvetica, sans-serif" font-size="44" font-weight="normal" text-anchor="middle" fill="#222" stroke="#222" stroke-width="0.6">80</text></g>
<line x1="738.7" y1="827.5" x2="738.7" y2="821.5" stroke="#6e6e6e" stroke-width="2.5"/>
<line x1="844.7" y1="827.5" x2="844.7" y2="815.5" stroke="#6e6e6e" stroke-width="2.5"/>
<g transform="translate(845.7,874.5) scale(1.0,1)"><text x="0" y="0" font-family="'Liberation Sans', Arial, Helvetica, sans-serif" font-size="44" font-weight="normal" text-anchor="middle" fill="#222" stroke="#222" stroke-width="0.6">120</text></g>
<line x1="950.7" y1="827.5" x2="950.7" y2="821.5" stroke="#6e6e6e" stroke-width="2.5"/>
<line x1="1056.8" y1="827.5" x2="1056.8" y2="815.5" stroke="#6e6e6e" stroke-width="2.5"/>
<g transform="translate(1057.0,874.5) scale(1.0,1)"><text x="0" y="0" font-family="'Liberation Sans', Arial, Helvetica, sans-serif" font-size="44" font-weight="normal" text-anchor="middle" fill="#222" stroke="#222" stroke-width="0.6">160</text></g>
<line x1="1162.8" y1="827.5" x2="1162.8" y2="821.5" stroke="#6e6e6e" stroke-width="2.5"/>
<line x1="1268.8" y1="827.5" x2="1268.8" y2="815.5" stroke="#6e6e6e" stroke-width="2.5"/>
<g transform="translate(1263.3,874.5) scale(1.0,1)"><text x="0" y="0" font-family="'Liberation Sans', Arial, Helvetica, sans-serif" font-size="44" font-weight="normal" text-anchor="middle" fill="#222" stroke="#222" stroke-width="0.6">200</text></g>
<line x1="1374.8" y1="827.5" x2="1374.8" y2="821.5" stroke="#6e6e6e" stroke-width="2.5"/>
<line x1="1480.8" y1="827.5" x2="1480.8" y2="815.5" stroke="#6e6e6e" stroke-width="2.5"/>
<g transform="translate(1472.7,874.5) scale(1.0,1)"><text x="0" y="0" font-family="'Liberation Sans', Arial, Helvetica, sans-serif" font-size="44" font-weight="normal" text-anchor="middle" fill="#222" stroke="#222" stroke-width="0.6">240</text></g>
<line x1="1586.9" y1="827.5" x2="1586.9" y2="821.5" stroke="#6e6e6e" stroke-width="2.5"/>
<line x1="1692.9" y1="827.5" x2="1692.9" y2="815.5" stroke="#6e6e6e" stroke-width="2.5"/>
<g transform="translate(1689.7,874.5) scale(1.0,1)"><text x="0" y="0" font-family="'Liberation Sans', Arial, Helvetica, sans-serif" font-size="44" font-weight="normal" text-anchor="middle" fill="#222" stroke="#222" stroke-width="0.6">280</text></g>
<line x1="1798.9" y1="827.5" x2="1798.9" y2="821.5" stroke="#6e6e6e" stroke-width="2.5"/>
<line x1="208.6" y1="827.5" x2="220.6" y2="827.5" stroke="#6e6e6e" stroke-width="2.5"/>
<line x1="208.6" y1="744.8" x2="214.6" y2="744.8" stroke="#6e6e6e" stroke-width="2.5"/>
<line x1="208.6" y1="662.0" x2="220.6" y2="662.0" stroke="#6e6e6e" stroke-width="2.5"/>
<line x1="208.6" y1="579.2" x2="214.6" y2="579.2" stroke="#6e6e6e" stroke-width="2.5"/>
<line x1="208.6" y1="496.5" x2="220.6" y2="496.5" stroke="#6e6e6e" stroke-width="2.5"/>
<line x1="208.6" y1="413.8" x2="214.6" y2="413.8" stroke="#6e6e6e" stroke-width="2.5"/>
<line x1="208.6" y1="331.0" x2="220.6" y2="331.0" stroke="#6e6e6e" stroke-width="2.5"/>
<g transform="translate(189,350.4) scale(1.0,1)"><text x="0" y="0" font-family="'Liberation Sans', Arial, Helvetica, sans-serif" font-size="44" font-weight="normal" text-anchor="end" fill="#222" stroke="#222" stroke-width="0.6">110</text></g>
<g transform="translate(189,517.4) scale(1.0,1)"><text x="0" y="0" font-family="'Liberation Sans', Arial, Helvetica, sans-serif" font-size="44" font-weight="normal" text-anchor="end" fill="#222" stroke="#222" stroke-width="0.6">105</text></g>
<g transform="translate(189,680.4) scale(1.0,1)"><text x="0" y="0" font-family="'Liberation Sans', Arial, Helvetica, sans-serif" font-size="44" font-weight="normal" text-anchor="end" fill="#222" stroke="#222" stroke-width="0.6">100</text></g>
<g transform="translate(189,835.4) scale(1.0,1)"><text x="0" y="0" font-family="'Liberation Sans', Arial, Helvetica, sans-serif" font-size="44" font-weight="normal" text-anchor="end" fill="#222" stroke="#222" stroke-width="0.6">95</text></g>
<line x1="1816" y1="827.5" x2="1804" y2="827.5" stroke="#6e6e6e" stroke-width="2.5"/>
<line x1="1816" y1="756.8" x2="1810" y2="756.8" stroke="#6e6e6e" stroke-width="2.5"/>
<line x1="1816" y1="686.0" x2="1804" y2="686.0" stroke="#6e6e6e" stroke-width="2.5"/>
<line x1="1816" y1="615.3" x2="1810" y2="615.3" stroke="#6e6e6e" stroke-width="2.5"/>
<line x1="1816" y1="544.6" x2="1804" y2="544.6" stroke="#6e6e6e" stroke-width="2.5"/>
<line x1="1816" y1="473.9" x2="1810" y2="473.9" stroke="#6e6e6e" stroke-width="2.5"/>
<line x1="1816" y1="403.1" x2="1804" y2="403.1" stroke="#6e6e6e" stroke-width="2.5"/>
<line x1="1816" y1="332.4" x2="1810" y2="332.4" stroke="#6e6e6e" stroke-width="2.5"/>
<g transform="translate(1835,420.4) scale(1.0,1)"><text x="0" y="0" font-family="'Liberation Sans', Arial, Helvetica, sans-serif" font-size="44" font-weight="normal" text-anchor="start" fill="#222" stroke="#222" stroke-width="0.6">1.0</text></g>
<g transform="translate(1835,557.4) scale(1.0,1)"><text x="0" y="0" font-family="'Liberation Sans', Arial, Helvetica, sans-serif" font-size="44" font-weight="normal" text-anchor="start" fill="#222" stroke="#222" stroke-width="0.6">0.8</text></g>
<g transform="translate(1835,696.4) scale(1.0,1)"><text x="0" y="0" font-family="'Liberation Sans', Arial, Helvetica, sans-serif" font-size="44" font-weight="normal" text-anchor="start" fill="#222" stroke="#222" stroke-width="0.6">0.6</text></g>
<g transform="translate(1835,835.4) scale(1.0,1)"><text x="0" y="0" font-family="'Liberation Sans', Arial, Helvetica, sans-serif" font-size="44" font-weight="normal" text-anchor="start" fill="#222" stroke="#222" stroke-width="0.6">0.4</text></g>
<g transform="translate(1019.7,929) scale(1.015,1)"><text x="0" y="0" font-family="'Liberation Sans', Arial, Helvetica, sans-serif" font-size="49.5" font-weight="bold" text-anchor="middle" fill="#111" >Time(s)</text></g>
<text x="0" y="0" font-family="'Liberation Sans', Arial, Helvetica, sans-serif" font-size="50.5" font-weight="bold" text-anchor="middle" fill="#111"  transform="translate(87.6,576) rotate(-90)">Perimeter (nm)</text>
<rect x="856" y="744" width="930" height="52" fill="#fff" stroke="#8a8a8a" stroke-width="3"/>
<polyline points="872.0,770.0 956.0,770.0" fill="none" stroke="#58b896" stroke-width="3" stroke-linejoin="round" stroke-opacity="1.0"/>
<g transform="translate(964.5,782.7) scale(1.02,1)"><text x="0" y="0" font-family="'Liberation Sans', Arial, Helvetica, sans-serif" font-size="44" font-weight="normal" text-anchor="start" fill="#222" stroke="#222" stroke-width="0.6">Circularity</text></g>
<polyline points="1194.0,770.0 1278.0,770.0" fill="none" stroke="#56709e" stroke-width="3" stroke-linejoin="round" stroke-opacity="1.0"/>
<g transform="translate(1283,782.7) scale(1.023,1)"><text x="0" y="0" font-family="'Liberation Sans', Arial, Helvetica, sans-serif" font-size="44" font-weight="normal" text-anchor="start" fill="#222" stroke="#222" stroke-width="0.6">Roundness</text></g>
<polyline points="1532.0,770.0 1616.0,770.0" fill="none" stroke="#e6d878" stroke-width="3" stroke-linejoin="round" stroke-opacity="1.0"/>
<g transform="translate(1628,782.7) scale(1.03,1)"><text x="0" y="0" font-family="'Liberation Sans', Arial, Helvetica, sans-serif" font-size="44" font-weight="normal" text-anchor="start" fill="#222" stroke="#222" stroke-width="0.6">Solidity</text></g>
<path d="M328.0,1456.8 C352.2,1454.5 378.4,1464.1 395.0,1478.0 C411.6,1491.9 423.4,1519.7 427.6,1540.0 C431.8,1560.3 427.1,1583.0 420.0,1600.0 C412.9,1617.0 400.3,1632.7 385.0,1642.0 C369.7,1651.3 347.2,1656.0 328.0,1656.0 C308.8,1656.0 285.3,1650.5 270.0,1642.0 C254.7,1633.5 242.9,1620.3 236.0,1605.0 C229.1,1589.7 226.1,1568.8 228.4,1550.0 C230.7,1531.2 233.4,1507.5 250.0,1492.0 C266.6,1476.5 303.8,1459.1 328.0,1456.8Z" fill="url(#yelG)" stroke="#b89c6a" stroke-width="2" stroke-opacity="0.5" filter="url(#b1)"/>
<path d="M591.5,1461.0 C615.0,1461.0 646.1,1473.8 662.1,1486.5 C678.1,1499.2 683.7,1520.5 687.5,1537.4 C691.3,1554.4 690.8,1571.7 684.7,1588.2 C678.6,1604.7 668.7,1625.2 650.8,1636.3 C632.9,1647.4 599.0,1654.6 577.3,1654.6 C555.6,1654.6 534.0,1646.4 520.8,1636.3 C507.6,1626.2 501.5,1606.6 498.2,1593.9 C494.9,1581.2 499.6,1568.5 501.0,1560.0 C502.4,1551.5 507.6,1549.6 506.7,1543.0 C505.8,1536.4 493.0,1529.8 495.4,1520.4 C497.8,1511.0 504.8,1496.4 520.8,1486.5 C536.8,1476.6 568.0,1461.0 591.5,1461.0Z" fill="url(#yelG)" stroke="#b89c6a" stroke-width="2" stroke-opacity="0.5" filter="url(#b1)"/>
<path d="M769.8,1489.3 C775.7,1484.0 808.1,1478.5 820.6,1475.2 C833.1,1471.9 865.7,1462.3 877.2,1461.0 C888.7,1459.7 911.9,1458.9 919.5,1463.9 C927.1,1468.9 936.8,1496.3 942.1,1503.5 C947.4,1510.7 961.2,1519.7 964.8,1526.0 C968.4,1532.3 973.9,1548.6 973.2,1557.2 C972.5,1565.8 961.4,1589.0 959.1,1599.5 C956.8,1610.0 959.4,1641.3 953.5,1647.6 C947.6,1653.9 918.1,1652.9 908.2,1653.2 C898.3,1653.5 877.6,1650.1 868.7,1650.4 C859.8,1650.7 839.2,1660.3 831.9,1656.0 C824.6,1651.7 812.4,1624.6 806.5,1613.7 C800.6,1602.8 785.4,1573.7 781.1,1562.8 C776.8,1551.9 771.1,1529.0 769.8,1520.4 C768.5,1511.8 763.9,1494.6 769.8,1489.3Z" fill="url(#yelG)" stroke="#b89c6a" stroke-width="2" stroke-opacity="0.5" filter="url(#b1)"/>
<path d="M1035.4,1543.0 C1038.0,1535.7 1054.9,1507.8 1060.8,1500.6 C1066.7,1493.4 1074.8,1484.5 1086.3,1480.9 C1097.8,1477.3 1145.5,1471.6 1159.7,1469.6 C1173.9,1467.6 1200.5,1463.6 1207.8,1463.9 C1215.1,1464.2 1219.9,1463.2 1221.9,1472.4 C1223.9,1481.6 1224.7,1528.2 1224.7,1543.0 C1224.7,1557.8 1223.2,1589.0 1221.9,1599.5 C1220.6,1610.0 1220.0,1627.8 1213.4,1633.4 C1206.8,1639.0 1176.6,1645.0 1165.4,1647.6 C1154.2,1650.2 1124.6,1658.3 1117.3,1656.0 C1110.0,1653.7 1109.8,1635.7 1103.2,1627.8 C1096.6,1619.9 1068.4,1595.8 1060.8,1588.2 C1053.2,1580.6 1041.2,1568.1 1038.2,1562.8 C1035.2,1557.5 1032.8,1550.3 1035.4,1543.0Z" fill="url(#yelG)" stroke="#b89c6a" stroke-width="2" stroke-opacity="0.5" filter="url(#b1)"/>
<path d="M1391.0,1461.0 C1402.1,1461.0 1436.0,1466.4 1449.7,1471.0 C1463.4,1475.6 1486.4,1487.7 1493.6,1495.5 C1500.8,1503.3 1504.0,1520.6 1503.4,1529.7 C1502.8,1538.8 1491.1,1555.6 1488.8,1564.0 C1486.5,1572.4 1486.3,1585.2 1486.3,1593.0 C1486.3,1600.8 1491.1,1614.7 1488.8,1622.6 C1486.5,1630.5 1477.0,1646.1 1469.2,1652.0 C1461.4,1657.9 1441.7,1666.0 1430.0,1666.6 C1418.3,1667.2 1393.6,1660.7 1381.2,1656.8 C1368.8,1652.9 1346.0,1644.4 1337.2,1637.2 C1328.4,1630.0 1317.8,1613.4 1315.2,1603.0 C1312.6,1592.6 1314.1,1566.5 1317.7,1559.0 C1321.3,1551.5 1335.5,1549.4 1342.0,1546.8 C1348.5,1544.2 1363.0,1543.7 1366.6,1539.5 C1370.2,1535.3 1370.3,1521.5 1369.0,1515.0 C1367.7,1508.5 1357.1,1496.5 1356.8,1490.6 C1356.5,1484.7 1362.0,1474.9 1366.6,1471.0 C1371.2,1467.1 1379.9,1461.0 1391.0,1461.0Z" fill="url(#yelG)" stroke="#b89c6a" stroke-width="2" stroke-opacity="0.5" filter="url(#b1)"/>
<path d="M1617.0,1466.0 C1619.4,1460.9 1646.3,1445.4 1664.5,1445.8 C1682.7,1446.2 1758.8,1462.8 1773.0,1469.5 C1787.2,1476.2 1785.7,1495.5 1786.5,1503.4 C1787.3,1511.3 1779.6,1526.2 1779.8,1537.3 C1780.0,1548.4 1790.6,1586.8 1788.2,1598.3 C1785.8,1609.8 1766.7,1629.3 1759.4,1635.6 C1752.1,1641.9 1735.8,1648.7 1725.5,1652.5 C1715.2,1656.3 1681.6,1667.8 1671.3,1667.8 C1661.0,1667.8 1648.1,1660.2 1637.4,1652.5 C1626.7,1644.8 1584.9,1608.8 1579.8,1601.7 C1574.7,1594.6 1585.8,1593.5 1593.3,1591.5 C1600.8,1589.5 1631.1,1590.2 1644.2,1584.7 C1657.3,1579.2 1702.0,1552.8 1705.2,1544.1 C1708.4,1535.4 1678.4,1516.5 1671.3,1510.2 C1664.2,1503.9 1650.5,1495.0 1644.2,1489.8 C1637.9,1484.6 1614.6,1471.1 1617.0,1466.0Z" fill="url(#yelG)" stroke="#b89c6a" stroke-width="2" stroke-opacity="0.5" filter="url(#b1)"/>
<polyline points="209.6,1391.8 377.4,1392.5 410.0,1400.0 440.0,1415.0 478.7,1430.2 541.6,1416.3 580.0,1423.7 637.6,1410.6 684.7,1404.1 815.5,1409.3 854.7,1418.5 946.3,1423.7 977.7,1418.5 1014.3,1421.1 1037.9,1434.2 1060.0,1438.1 1146.3,1431.6 1203.9,1435.5 1269.3,1432.9 1295.5,1457.7 1347.8,1497.0 1387.0,1517.9 1439.4,1525.8 1504.8,1538.9 1535.7,1544.1 1579.8,1564.4 1637.4,1588.1 1705.2,1598.3 1773.0,1611.9 1817.0,1617.0" fill="none" stroke="#e6d878" stroke-width="2.6" stroke-linejoin="round" stroke-opacity="1.0"/>
<polyline points="209.6,1406.0 260.0,1405.5 300.0,1403.0 377.4,1404.0 410.0,1425.0 443.7,1451.2 478.7,1498.4 541.6,1470.4 576.5,1486.1 580.0,1486.5 637.6,1460.4 684.7,1455.1 726.5,1463.0 773.6,1481.3 807.6,1474.7 844.3,1514.0 888.7,1497.0 920.1,1499.6 951.5,1504.8 980.3,1497.0 1014.3,1502.2 1045.7,1523.2 1081.0,1528.4 1112.3,1525.8 1146.3,1507.5 1177.7,1517.9 1211.8,1517.9 1248.4,1502.2 1277.2,1504.8 1295.5,1562.4 1311.2,1627.8 1334.7,1667.0 1400.1,1706.3 1439.4,1710.2 1478.6,1722.0 1515.4,1715.3 1545.9,1732.2 1586.5,1747.5 1654.3,1762.7 1684.8,1767.8 1718.7,1776.3 1745.9,1772.9 1783.2,1788.1 1817.0,1789.8" fill="none" stroke="#58b896" stroke-width="2.4" stroke-linejoin="round" stroke-opacity="1.0"/>
<polyline points="209.6,1418.0 244.6,1428.5 349.4,1428.5 377.4,1423.3 443.7,1446.0 475.2,1451.2 510.1,1472.2 541.6,1468.7 580.0,1470.8 619.2,1473.4 676.8,1468.2 710.8,1477.4 750.0,1463.0 778.8,1446.0 841.6,1465.6 880.9,1453.8 941.0,1463.0 980.3,1443.3 1009.1,1455.1 1060.0,1457.7 1112.3,1447.3 1146.3,1452.5 1203.9,1438.1 1245.8,1442.0 1282.4,1502.2 1321.6,1544.1 1347.8,1559.8 1400.1,1575.5 1452.5,1591.2 1484.8,1589.8 1518.7,1600.0 1545.9,1603.4 1583.2,1620.3 1654.3,1642.4 1752.6,1639.0 1786.5,1652.5 1817.0,1656.0" fill="none" stroke="#56709e" stroke-width="2.4" stroke-linejoin="round" stroke-opacity="1.0"/>
<polyline points="209.6,1793.6 237.6,1790.8 276.0,1802.4 307.5,1796.4 377.4,1798.9 475.2,1740.5 541.6,1769.9 576.5,1753.4 606.2,1763.9 645.4,1780.9 676.8,1779.6 710.8,1784.8 737.0,1775.6 807.6,1756.0 845.6,1724.6 875.7,1735.1 920.1,1737.7 972.5,1733.8 1009.1,1724.6 1051.0,1701.0 1081.0,1690.6 1112.3,1685.4 1143.7,1688.0 1180.4,1669.7 1211.8,1667.0 1245.8,1680.1 1279.8,1661.8 1290.2,1627.8 1311.2,1557.2 1334.7,1523.2 1374.0,1489.1 1426.3,1463.0 1478.6,1449.9 1515.3,1457.7 1549.3,1425.4 1576.4,1422.0 1610.3,1427.1 1651.0,1430.5 1681.5,1428.8 1715.4,1396.6 1745.9,1400.0 1786.5,1381.4 1817.0,1378.0" fill="none" stroke="#404040" stroke-width="2.6" stroke-linejoin="round" stroke-opacity="1.0"/>
<rect x="209.6" y="1322" width="1607.4" height="496.5" fill="none" stroke="#6a6a6a" stroke-width="3.5"/>
<line x1="209.6" y1="1818.5" x2="209.6" y2="1806.5" stroke="#6e6e6e" stroke-width="2.5"/>
<g transform="translate(209.0,1869) scale(1.0,1)"><text x="0" y="0" font-family="'Liberation Sans', Arial, Helvetica, sans-serif" font-size="44" font-weight="normal" text-anchor="middle" fill="#222" stroke="#222" stroke-width="0.6">0</text></g>
<line x1="310.0" y1="1818.5" x2="310.0" y2="1812.5" stroke="#6e6e6e" stroke-width="2.5"/>
<line x1="410.4" y1="1818.5" x2="410.4" y2="1806.5" stroke="#6e6e6e" stroke-width="2.5"/>
<g transform="translate(409.6,1869) scale(1.0,1)"><text x="0" y="0" font-family="'Liberation Sans', Arial, Helvetica, sans-serif" font-size="44" font-weight="normal" text-anchor="middle" fill="#222" stroke="#222" stroke-width="0.6">20</text></g>
<line x1="510.8" y1="1818.5" x2="510.8" y2="1812.5" stroke="#6e6e6e" stroke-width="2.5"/>
<line x1="611.2" y1="1818.5" x2="611.2" y2="1806.5" stroke="#6e6e6e" stroke-width="2.5"/>
<g transform="translate(611.3,1869) scale(1.0,1)"><text x="0" y="0" font-family="'Liberation Sans', Arial, Helvetica, sans-serif" font-size="44" font-weight="normal" text-anchor="middle" fill="#222" stroke="#222" stroke-width="0.6">40</text></g>
<line x1="711.6" y1="1818.5" x2="711.6" y2="1812.5" stroke="#6e6e6e" stroke-width="2.5"/>
<line x1="812.0" y1="1818.5" x2="812.0" y2="1806.5" stroke="#6e6e6e" stroke-width="2.5"/>
<g transform="translate(809.8,1869) scale(1.0,1)"><text x="0" y="0" font-family="'Liberation Sans', Arial, Helvetica, sans-serif" font-size="44" font-weight="normal" text-anchor="middle" fill="#222" stroke="#222" stroke-width="0.6">60</text></g>
<line x1="912.4" y1="1818.5" x2="912.4" y2="1812.5" stroke="#6e6e6e" stroke-width="2.5"/>
<line x1="1012.8" y1="1818.5" x2="1012.8" y2="1806.5" stroke="#6e6e6e" stroke-width="2.5"/>
<g transform="translate(1012.7,1869) scale(1.0,1)"><text x="0" y="0" font-family="'Liberation Sans', Arial, Helvetica, sans-serif" font-size="44" font-weight="normal" text-anchor="middle" fill="#222" stroke="#222" stroke-width="0.6">80</text></g>
<line x1="1113.2" y1="1818.5" x2="1113.2" y2="1812.5" stroke="#6e6e6e" stroke-width="2.5"/>
<line x1="1213.6" y1="1818.5" x2="1213.6" y2="1806.5" stroke="#6e6e6e" stroke-width="2.5"/>
<g transform="translate(1214.9,1869) scale(1.0,1)"><text x="0" y="0" font-family="'Liberation Sans', Arial, Helvetica, sans-serif" font-size="44" font-weight="normal" text-anchor="middle" fill="#222" stroke="#222" stroke-width="0.6">100</text></g>
<line x1="1314.0" y1="1818.5" x2="1314.0" y2="1812.5" stroke="#6e6e6e" stroke-width="2.5"/>
<line x1="1414.4" y1="1818.5" x2="1414.4" y2="1806.5" stroke="#6e6e6e" stroke-width="2.5"/>
<g transform="translate(1416.3,1869) scale(1.0,1)"><text x="0" y="0" font-family="'Liberation Sans', Arial, Helvetica, sans-serif" font-size="44" font-weight="normal" text-anchor="middle" fill="#222" stroke="#222" stroke-width="0.6">120</text></g>
<line x1="1514.8" y1="1818.5" x2="1514.8" y2="1812.5" stroke="#6e6e6e" stroke-width="2.5"/>
<line x1="1615.2" y1="1818.5" x2="1615.2" y2="1806.5" stroke="#6e6e6e" stroke-width="2.5"/>
<g transform="translate(1617.7,1869) scale(1.0,1)"><text x="0" y="0" font-family="'Liberation Sans', Arial, Helvetica, sans-serif" font-size="44" font-weight="normal" text-anchor="middle" fill="#222" stroke="#222" stroke-width="0.6">140</text></g>
<line x1="1715.6" y1="1818.5" x2="1715.6" y2="1812.5" stroke="#6e6e6e" stroke-width="2.5"/>
<line x1="1816.0" y1="1818.5" x2="1816.0" y2="1806.5" stroke="#6e6e6e" stroke-width="2.5"/>
<g transform="translate(1810.0,1869) scale(1.0,1)"><text x="0" y="0" font-family="'Liberation Sans', Arial, Helvetica, sans-serif" font-size="44" font-weight="normal" text-anchor="middle" fill="#222" stroke="#222" stroke-width="0.6">160</text></g>
<line x1="209.6" y1="1819.8" x2="221.6" y2="1819.8" stroke="#6e6e6e" stroke-width="2.5"/>
<line x1="209.6" y1="1749.0" x2="215.6" y2="1749.0" stroke="#6e6e6e" stroke-width="2.5"/>
<line x1="209.6" y1="1678.3" x2="221.6" y2="1678.3" stroke="#6e6e6e" stroke-width="2.5"/>
<line x1="209.6" y1="1607.5" x2="215.6" y2="1607.5" stroke="#6e6e6e" stroke-width="2.5"/>
<line x1="209.6" y1="1536.8" x2="221.6" y2="1536.8" stroke="#6e6e6e" stroke-width="2.5"/>
<line x1="209.6" y1="1466.0" x2="215.6" y2="1466.0" stroke="#6e6e6e" stroke-width="2.5"/>
<line x1="209.6" y1="1395.3" x2="221.6" y2="1395.3" stroke="#6e6e6e" stroke-width="2.5"/>
<line x1="209.6" y1="1324.5" x2="215.6" y2="1324.5" stroke="#6e6e6e" stroke-width="2.5"/>
<g transform="translate(194,1408.4) scale(1.0,1)"><text x="0" y="0" font-family="'Liberation Sans', Arial, Helvetica, sans-serif" font-size="44" font-weight="normal" text-anchor="end" fill="#222" stroke="#222" stroke-width="0.6">180</text></g>
<g transform="translate(194,1550.4) scale(1.0,1)"><text x="0" y="0" font-family="'Liberation Sans', Arial, Helvetica, sans-serif" font-size="44" font-weight="normal" text-anchor="end" fill="#222" stroke="#222" stroke-width="0.6">160</text></g>
<g transform="translate(194,1692.4) scale(1.0,1)"><text x="0" y="0" font-family="'Liberation Sans', Arial, Helvetica, sans-serif" font-size="44" font-weight="normal" text-anchor="end" fill="#222" stroke="#222" stroke-width="0.6">140</text></g>
<g transform="translate(194,1834.4) scale(1.0,1)"><text x="0" y="0" font-family="'Liberation Sans', Arial, Helvetica, sans-serif" font-size="44" font-weight="normal" text-anchor="end" fill="#222" stroke="#222" stroke-width="0.6">120</text></g>
<line x1="1817" y1="1818.6" x2="1805" y2="1818.6" stroke="#6e6e6e" stroke-width="2.5"/>
<line x1="1817" y1="1747.4" x2="1811" y2="1747.4" stroke="#6e6e6e" stroke-width="2.5"/>
<line x1="1817" y1="1676.2" x2="1805" y2="1676.2" stroke="#6e6e6e" stroke-width="2.5"/>
<line x1="1817" y1="1605.0" x2="1811" y2="1605.0" stroke="#6e6e6e" stroke-width="2.5"/>
<line x1="1817" y1="1533.8" x2="1805" y2="1533.8" stroke="#6e6e6e" stroke-width="2.5"/>
<line x1="1817" y1="1462.6" x2="1811" y2="1462.6" stroke="#6e6e6e" stroke-width="2.5"/>
<line x1="1817" y1="1391.4" x2="1805" y2="1391.4" stroke="#6e6e6e" stroke-width="2.5"/>
<g transform="translate(1839,1416.4) scale(1.0,1)"><text x="0" y="0" font-family="'Liberation Sans', Arial, Helvetica, sans-serif" font-size="44" font-weight="normal" text-anchor="start" fill="#222" stroke="#222" stroke-width="0.6">1.0</text></g>
<g transform="translate(1839,1552.4) scale(1.0,1)"><text x="0" y="0" font-family="'Liberation Sans', Arial, Helvetica, sans-serif" font-size="44" font-weight="normal" text-anchor="start" fill="#222" stroke="#222" stroke-width="0.6">0.8</text></g>
<g transform="translate(1839,1691.4) scale(1.0,1)"><text x="0" y="0" font-family="'Liberation Sans', Arial, Helvetica, sans-serif" font-size="44" font-weight="normal" text-anchor="start" fill="#222" stroke="#222" stroke-width="0.6">0.6</text></g>
<g transform="translate(1839,1829.0) scale(1.0,1)"><text x="0" y="0" font-family="'Liberation Sans', Arial, Helvetica, sans-serif" font-size="44" font-weight="normal" text-anchor="start" fill="#222" stroke="#222" stroke-width="0.6">0.4</text></g>
<g transform="translate(1024,1915.5) scale(1.015,1)"><text x="0" y="0" font-family="'Liberation Sans', Arial, Helvetica, sans-serif" font-size="49.5" font-weight="bold" text-anchor="middle" fill="#111" >Time(s)</text></g>
<text x="0" y="0" font-family="'Liberation Sans', Arial, Helvetica, sans-serif" font-size="50.5" font-weight="bold" text-anchor="middle" fill="#111"  transform="translate(91.3,1570) rotate(-90)">Perimeter (nm)</text>
</svg>
</body></html>
